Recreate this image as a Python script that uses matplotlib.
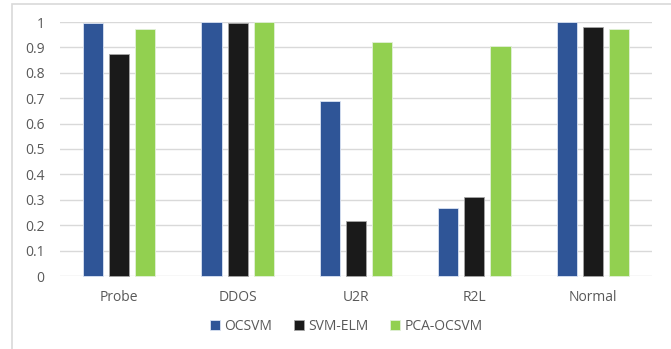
import numpy as np
import matplotlib
matplotlib.use("Agg")
import matplotlib.pyplot as plt
from matplotlib.patches import Rectangle

categories = ["Probe", "DDOS", "U2R", "R2L", "Normal"]
series_names = ["OCSVM", "SVM-ELM", "PCA-OCSVM"]
ocsvm = [0.995, 1.0, 0.69, 0.266, 1.0]
svm_elm = [0.873, 0.995, 0.218, 0.312, 0.981]
pca_ocsvm = [0.974, 1.0, 0.922, 0.906, 0.971]
yticks = [0, 0.1, 0.2, 0.3, 0.4, 0.5, 0.6, 0.7, 0.8, 0.9, 1]
ytick_labels = ["0", "0.1", "0.2", "0.3", "0.4", "0.5", "0.6", "0.7", "0.8", "0.9", "1"]

colors = ["#2F5597", "#1A1A1A", "#92D050"]
edges = ["#DAE3F3", "#A6A6A6", "#E2F0D9"]

plt.rcParams["font.family"] = ["Open Sans", "DejaVu Sans"]

fig = plt.figure(figsize=(6.71, 3.49), dpi=100)
fig.patches.append(Rectangle((12 / 671, -0.05), 1.0, 1 - 4 / 349 + 0.05,
                             transform=fig.transFigure, fill=False,
                             edgecolor="#D9D9D9", linewidth=1.2))
ax = fig.add_axes([60 / 671, 1 - 276 / 349, (652 - 60) / 671, (276 - 22) / 349])

x = np.arange(len(categories))
width = 0.17
step = 0.22
for i, (vals, name) in enumerate(zip([ocsvm, svm_elm, pca_ocsvm], series_names)):
    ax.bar(x + (i - 1) * step, vals, width, color=colors[i], edgecolor=edges[i],
           linewidth=0.6, label=name, zorder=3, clip_on=False)

ax.set_xlim(-0.5, len(categories) - 0.5)
ax.set_ylim(0, 1)
ax.set_yticks(yticks)
ax.set_yticklabels(ytick_labels)
ax.set_xticks(x)
ax.set_xticklabels(categories)
ax.grid(axis="y", color="#D9D9D9", linewidth=1, zorder=0)
ax.tick_params(axis="both", length=0, labelsize=10, labelcolor="#595959")
ax.tick_params(axis="y", pad=11)
ax.tick_params(axis="x", pad=10)
for s in ax.spines.values():
    s.set_visible(False)

fig.legend(loc="center", bbox_to_anchor=(0.516, 1 - 326 / 349), ncol=3,
           frameon=False, fontsize=10, handlelength=0.7, handleheight=0.7,
           handletextpad=0.3, columnspacing=1.6, labelcolor="#595959")

fig.savefig("out.png", dpi=100)
